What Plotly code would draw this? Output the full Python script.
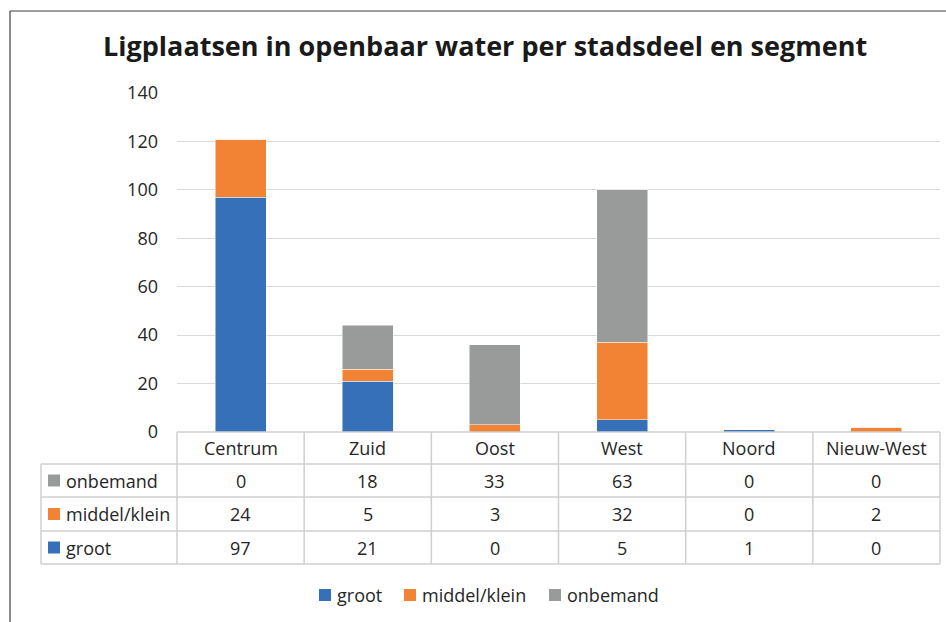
import plotly.graph_objects as go

categories = ["Centrum", "Zuid", "Oost", "West", "Noord", "Nieuw-West"]
groot = [97, 21, 0, 5, 1, 0]
middel_klein = [24, 5, 3, 32, 0, 2]
onbemand = [0, 18, 33, 63, 0, 0]
series_names = ["groot", "middel/klein", "onbemand"]
y_ticks = [0, 20, 40, 60, 80, 100, 120, 140]

colors = {"groot": "#3570B8", "middel/klein": "#F28334", "onbemand": "#999B9B"}
series = {"groot": groot, "middel/klein": middel_klein, "onbemand": onbemand}

W, H = 946, 622
L, R, T, B = 177, 6, 93, 190
PW = W - L - R
PH = H - T - B
FONT = "Open Sans"
TXT = "#262626"
GRID = "#D9D9D9"
TBL = "#CFCFCF"


def px(xp):
    return (xp - L) / PW


def py(yp):
    return (H - B - yp) / PH


fig = go.Figure()
for name in series_names:
    fig.add_trace(go.Bar(
        x=categories, y=series[name], name=name,
        marker=dict(color=colors[name], line=dict(color="rgba(255,255,255,0.6)", width=0.8)),
        showlegend=False,
    ))

shapes = []
annotations = []

# outer chart border (top and left visible)
shapes.append(dict(type="line", xref="paper", yref="paper", x0=px(10), x1=px(950), y0=py(11), y1=py(11),
                   line=dict(color="#404040", width=1.2)))
shapes.append(dict(type="line", xref="paper", yref="paper", x0=px(10), x1=px(10), y0=py(11), y1=py(630),
                   line=dict(color="#404040", width=1.2)))

# data table
row_lines = [432, 464, 497, 531, 564]
tbl_left = 41
shapes.append(dict(type="line", xref="paper", yref="paper", x0=0, x1=1, y0=py(row_lines[0]), y1=py(row_lines[0]),
                   line=dict(color=TBL, width=1.5)))
for yl in row_lines[1:]:
    shapes.append(dict(type="line", xref="paper", yref="paper", x0=px(tbl_left), x1=1, y0=py(yl), y1=py(yl),
                       line=dict(color=TBL, width=1.5)))
shapes.append(dict(type="line", xref="paper", yref="paper", x0=px(tbl_left), x1=px(tbl_left),
                   y0=py(row_lines[1]), y1=py(row_lines[-1]), line=dict(color=TBL, width=1.5)))
ncat = len(categories)
for i in range(ncat + 1):
    xv = i / ncat
    shapes.append(dict(type="line", xref="paper", yref="paper", x0=xv, x1=xv,
                       y0=py(row_lines[0]), y1=py(row_lines[-1]), line=dict(color=TBL, width=1.5)))

# header row
hy = py((row_lines[0] + row_lines[1]) / 2)
for c in categories:
    annotations.append(dict(x=c, y=hy, xref="x", yref="paper", text=c, showarrow=False,
                            font=dict(family=FONT, size=18, color=TXT), xanchor="center", yanchor="middle"))

# data rows (top to bottom: onbemand, middel/klein, groot)
row_order = ["onbemand", "middel/klein", "groot"]
for r, name in enumerate(row_order):
    yc_px = (row_lines[r + 1] + row_lines[r + 2]) / 2
    yc = py(yc_px)
    shapes.append(dict(type="rect", xref="paper", yref="paper", x0=px(48), x1=px(60),
                       y0=py(yc_px + 6), y1=py(yc_px - 6), fillcolor=colors[name], line=dict(width=0)))
    annotations.append(dict(x=px(64), y=yc, xref="paper", yref="paper", text=name, showarrow=False,
                            font=dict(family=FONT, size=18, color=TXT), xanchor="left", yanchor="middle"))
    for c, v in zip(categories, series[name]):
        annotations.append(dict(x=c, y=yc, xref="x", yref="paper", text=str(v), showarrow=False,
                                font=dict(family=FONT, size=18, color=TXT), xanchor="center", yanchor="middle"))

# bottom legend
leg_y = 595
leg_items = [("groot", 319), ("middel/klein", 404), ("onbemand", 549)]
for name, x0 in leg_items:
    shapes.append(dict(type="rect", xref="paper", yref="paper", x0=px(x0), x1=px(x0 + 12),
                       y0=py(leg_y + 6), y1=py(leg_y - 6), fillcolor=colors[name], line=dict(width=0)))
    annotations.append(dict(x=px(x0 + 16), y=py(leg_y), xref="paper", yref="paper", text=name, showarrow=False,
                            font=dict(family=FONT, size=18, color=TXT), xanchor="left", yanchor="middle"))

# title
annotations.append(dict(x=px(485), y=py(46), xref="paper", yref="paper",
                        text="<b>Ligplaatsen in openbaar water per stadsdeel en segment</b>", showarrow=False,
                        font=dict(family=FONT, size=27, color="#1A1A1A"), xanchor="center", yanchor="middle"))

fig.update_layout(
    width=W, height=H,
    margin=dict(l=L, r=R, t=T, b=B, pad=0),
    barmode="stack", bargap=0.6,
    paper_bgcolor="white", plot_bgcolor="white",
    shapes=shapes, annotations=annotations,
    showlegend=False,
    xaxis=dict(showticklabels=False, showgrid=False, showline=False, zeroline=False, ticks="",
               range=[-0.5, ncat - 0.5]),
    yaxis=dict(range=[0, 140], tickvals=y_ticks, showgrid=True, gridcolor=GRID, gridwidth=1.2,
               zeroline=False, showline=False, ticks="", ticklabelstandoff=18,
               tickfont=dict(family=FONT, size=18, color=TXT)),
)

fig.write_html("out.html", config={"displayModeBar": False},
               post_script="document.body.style.margin='0';document.body.style.overflow='hidden';")
